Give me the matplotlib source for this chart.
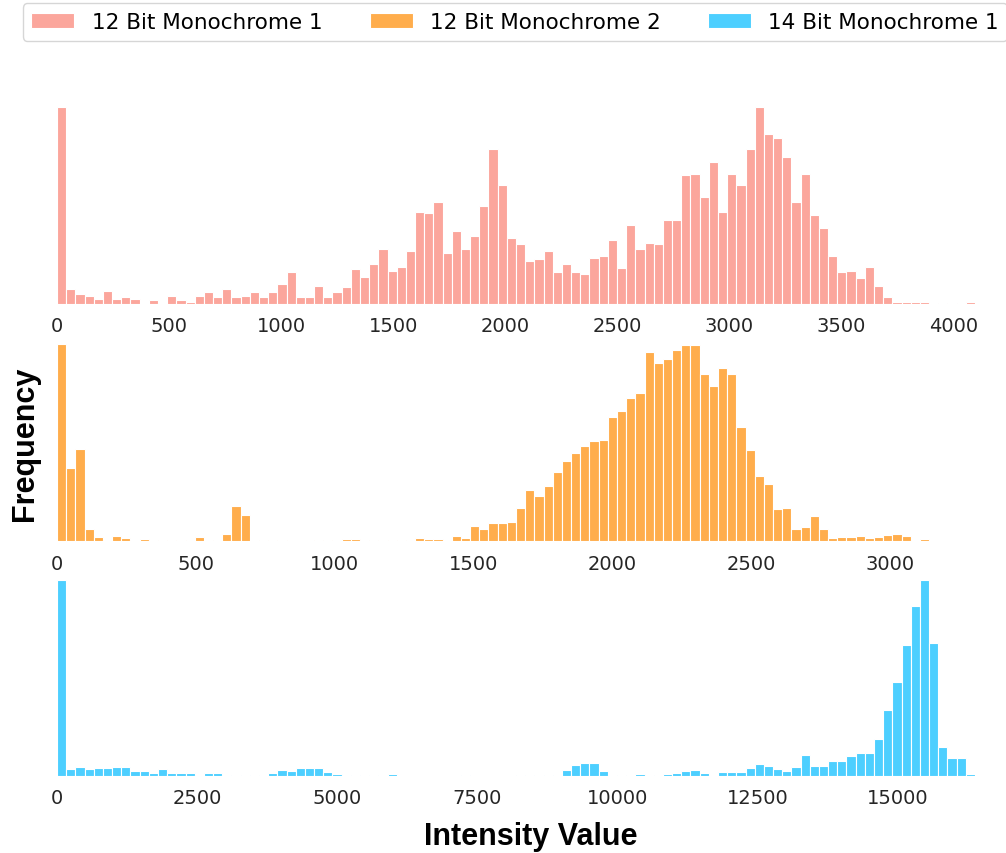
# Histograms of pixel intensity for the three monochrome sensors
# %%
import numpy as np
import matplotlib.pyplot as plt

# %%
# binned counts, 100 bins per sensor
labels = ['12 Bit Monochrome 1', '12 Bit Monochrome 2', '14 Bit Monochrome 1']
max_vals = [4095, 3307, 16383]
x_ticks = [np.arange(0, 4001, 500), np.arange(0, 3001, 500),
           np.arange(0, 15001, 2500)]

counts_12bit_1 = [588, 45, 31, 25, 15, 40, 15, 21, 15, 0,
                  11, 2, 25, 11, 6, 25, 35, 20, 45, 20,
                  25, 35, 20, 35, 60, 95, 20, 20, 55, 20,
                  35, 50, 105, 80, 119, 163, 99, 109, 159, 275,
                  272, 305, 153, 217, 163, 202, 292, 463, 355, 197,
                  178, 128, 133, 158, 95, 119, 95, 90, 137, 143,
                  192, 108, 237, 163, 182, 178, 251, 251, 384, 388,
                  320, 424, 276, 388, 355, 463, 587, 507, 497, 438,
                  305, 388, 266, 227, 143, 95, 99, 79, 109, 55,
                  21, 6, 6, 6, 6, 2, 2, 0, 2, 6]

counts_12bit_2 = [588, 217, 275, 35, 11, 3, 16, 9, 3, 7,
                  2, 2, 4, 4, 1, 13, 0, 4, 21, 104,
                  78, 1, 2, 2, 4, 1, 0, 1, 4, 4,
                  1, 7, 7, 4, 1, 2, 2, 0, 2, 9,
                  7, 7, 4, 16, 9, 45, 35, 53, 55, 58,
                  100, 151, 133, 164, 207, 240, 263, 285, 299, 301,
                  370, 389, 428, 442, 564, 530, 544, 569, 584, 586,
                  498, 462, 515, 498, 341, 273, 194, 169, 96, 100,
                  37, 42, 75, 37, 9, 13, 13, 16, 9, 11,
                  17, 20, 14, 3, 6, 1, 1, 0, 1, 1]

counts_14bit_1 = [587, 21, 26, 21, 25, 25, 28, 27, 14, 14,
                  10, 21, 10, 8, 8, 3, 9, 9, 3, 0,
                  2, 2, 3, 8, 17, 15, 24, 24, 24, 11,
                  7, 3, 1, 2, 2, 2, 6, 1, 1, 1,
                  1, 0, 1, 1, 2, 1, 1, 1, 1, 1,
                  2, 1, 3, 4, 4, 17, 33, 40, 40, 14,
                  4, 3, 2, 7, 3, 3, 6, 9, 16, 18,
                  8, 3, 11, 11, 12, 23, 36, 29, 21, 16,
                  28, 64, 29, 31, 44, 46, 60, 69, 70, 112,
                  198, 282, 392, 508, 586, 397, 86, 53, 53, 6]

all_counts = [counts_12bit_1, counts_12bit_2, counts_14bit_1]
colors = ['#fba69c', '#ffad4c', '#4dcfff']

# %%
fig = plt.figure(figsize=(10.06, 8.54), dpi=100)

# axes boxes (left, bottom, width, height) in figure fractions
boxes = [[0.0567, 0.6429, 0.9125, 0.2306],
         [0.0567, 0.3653, 0.9125, 0.2307],
         [0.0567, 0.0902, 0.9125, 0.2295]]

handles = []
for i in range(3):
    ax = fig.add_axes(boxes[i])
    counts = np.array(all_counts[i])
    edges = np.linspace(0, max_vals[i], len(counts) + 1)
    bars = ax.bar(edges[:-1], counts, width=np.diff(edges), align='edge',
                  color=colors[i], edgecolor='white', linewidth=0.8,
                  label=labels[i])
    handles.append(bars)
    ax.set_xlim(0, max_vals[i])
    ax.set_ylim(0, counts.max())
    ax.set_xticks(x_ticks[i])
    ax.set_yticks([])
    ax.tick_params(axis='x', length=0, pad=9, labelsize=14,
                   labelcolor='#262626')
    for s in ax.spines.values():
        s.set_visible(False)

fig.text(0.025, 0.48, 'Frequency', rotation=90, ha='center', va='center',
         fontsize=22, fontweight='bold', family='Liberation Sans')
fig.text(0.528, 0.02, 'Intensity Value', ha='center', va='center',
         fontsize=22, fontweight='bold', family='Liberation Sans')

fig.legend(handles, labels, loc='upper center', ncol=3,
           bbox_to_anchor=(0.512, 1.0), fontsize=15.5, frameon=True,
           fancybox=True, edgecolor='#cccccc', columnspacing=2.2,
           borderaxespad=0.2)

plt.savefig('out.png', dpi=100)
